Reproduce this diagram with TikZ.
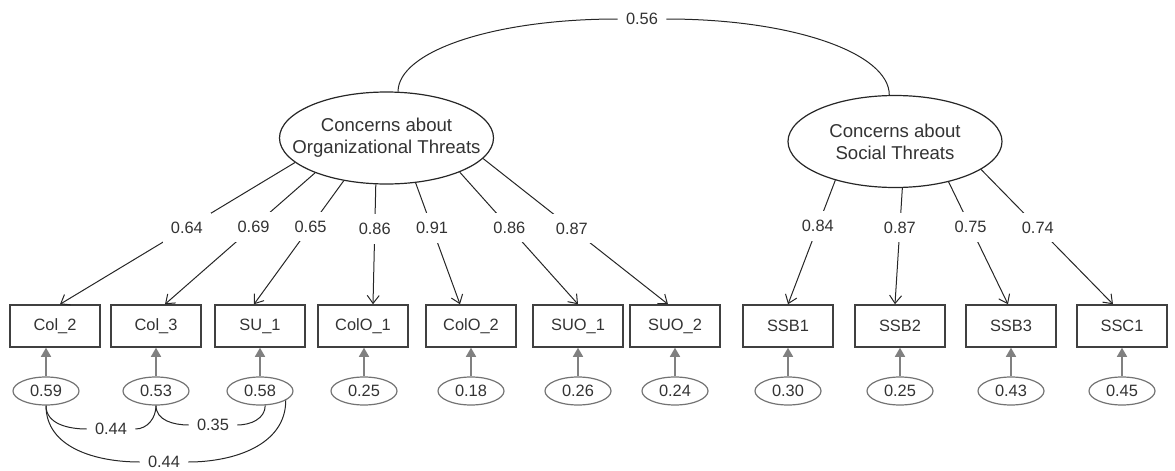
\documentclass[tikz,border=0pt]{standalone}
\usepackage{fontspec}
\setmainfont{Liberation Sans}
\usetikzlibrary{shapes.geometric,arrows.meta}

\begin{document}
\begin{tikzpicture}[x=0.5pt, y=-0.5pt,
    every node/.style={font=\fontsize{8.2}{9.8}\selectfont, text=black!80},
    obs/.style={draw=black!75, line width=0.75pt, minimum width=45pt, minimum height=21pt, inner sep=0pt},
    err/.style={draw=black!55, ellipse, line width=0.6pt, minimum width=33pt, minimum height=14pt, inner sep=0pt},
    lat/.style={draw=black!85, ellipse, line width=0.6pt, inner xsep=-10pt, inner ysep=0pt, align=center,
        minimum width=107pt, minimum height=46pt, font=\fontsize{9.3}{11}\selectfont},
    load/.style={draw=black!85, line width=0.5pt, -{Straight Barb[length=4pt,width=6pt]}},
    errarr/.style={draw=black!50, line width=0.75pt, -{Triangle[length=4.5pt,width=5pt]}},
    cov/.style={draw=black!85, line width=0.5pt},
    lbl/.style={fill=white, inner xsep=4pt, inner ysep=4.5pt}]
    \useasboundingbox (0,0) rectangle (1175,471);

    \node[lat] (org) at (386.5,138) {Concerns about\\Organizational Threats};
    \node[lat] (soc) at (895,141.5) {Concerns about\\Social Threats};

    \foreach \nm/\x/\txt in {col2/55/Col\_2, col3/156/Col\_3, su1/260/SU\_1, colo1/363/ColO\_1,
        colo2/471/ColO\_2, suo1/578/SUO\_1, suo2/675/SUO\_2, ssb1/788/SSB1, ssb2/900/SSB2,
        ssb3/1011/SSB3, ssc1/1122/SSC1}
        \node[obs] (\nm) at (\x,326) {\txt};

    \foreach \nm/\x/\v in {col2/46/0.59, col3/156/0.53, su1/260/0.58, colo1/364/0.25,
        colo2/471/0.18, suo1/578/0.26, suo2/675/0.24, ssb1/788/0.30, ssb2/900/0.25,
        ssb3/1011/0.43, ssc1/1122/0.45}
    {
        \node[err] (e\nm) at (\x,391) {\v};
        \draw[errarr] (e\nm.north) -- (\nm.south -| e\nm.north);
    }

    \foreach \a/\nm/\dx/\p/\v in {195/col2/2.5/0.46/0.64, 206/col3/4.5/0.41/0.69, 225/su1/-3/0.37/0.65,
        257/colo1/5/0.37/0.86, 303/colo2/-5.5/0.37/0.91, 335/suo1/0/0.42/0.86, 348/suo2/-3.5/0.48/0.87}
        \draw[load] (org.\a) -- ([xshift=\dx pt]\nm.north) node[lbl, pos=\p] {\v};

    \foreach \a/\nm/\dx/\p/\v in {213/ssb1/0/0.37/0.84, 279/ssb2/-2.5/0.34/0.87,
        323/ssb3/-1.5/0.37/0.75, 342/ssc1/-4.5/0.43/0.74}
        \draw[load] (soc.\a) -- ([xshift=\dx pt]\nm.north) node[lbl, pos=\p] {\v};

    \node[lbl] (r56) at (642,19) {0.56};
    \draw[cov] (org.76) .. controls +(0,-40) and +(-125,0) .. (r56.west);
    \draw[cov] (r56.east) .. controls +(126,0) and +(0,-42) .. (soc.97);

    \node[lbl] (r1) at (111,429) {0.44};
    \node[lbl] (r2) at (213,425) {0.35};
    \node[lbl] (r3) at (164,462) {0.44};
    \draw[cov] (ecol2.south) to[out=-90,in=180] (r1.west);
    \draw[cov] (r1.east) to[out=0,in=-90] (ecol3.south);
    \draw[cov] (ecol3.south) to[out=-90,in=180] (r2.west);
    \draw[cov] (r2.east) to[out=0,in=-90] (esu1.-70);
    \draw[cov] (ecol2.south) to[out=-90,in=180] (r3.west);
    \draw[cov] (r3.east) to[out=0,in=-90] (esu1.-20);
\end{tikzpicture}
\end{document}
